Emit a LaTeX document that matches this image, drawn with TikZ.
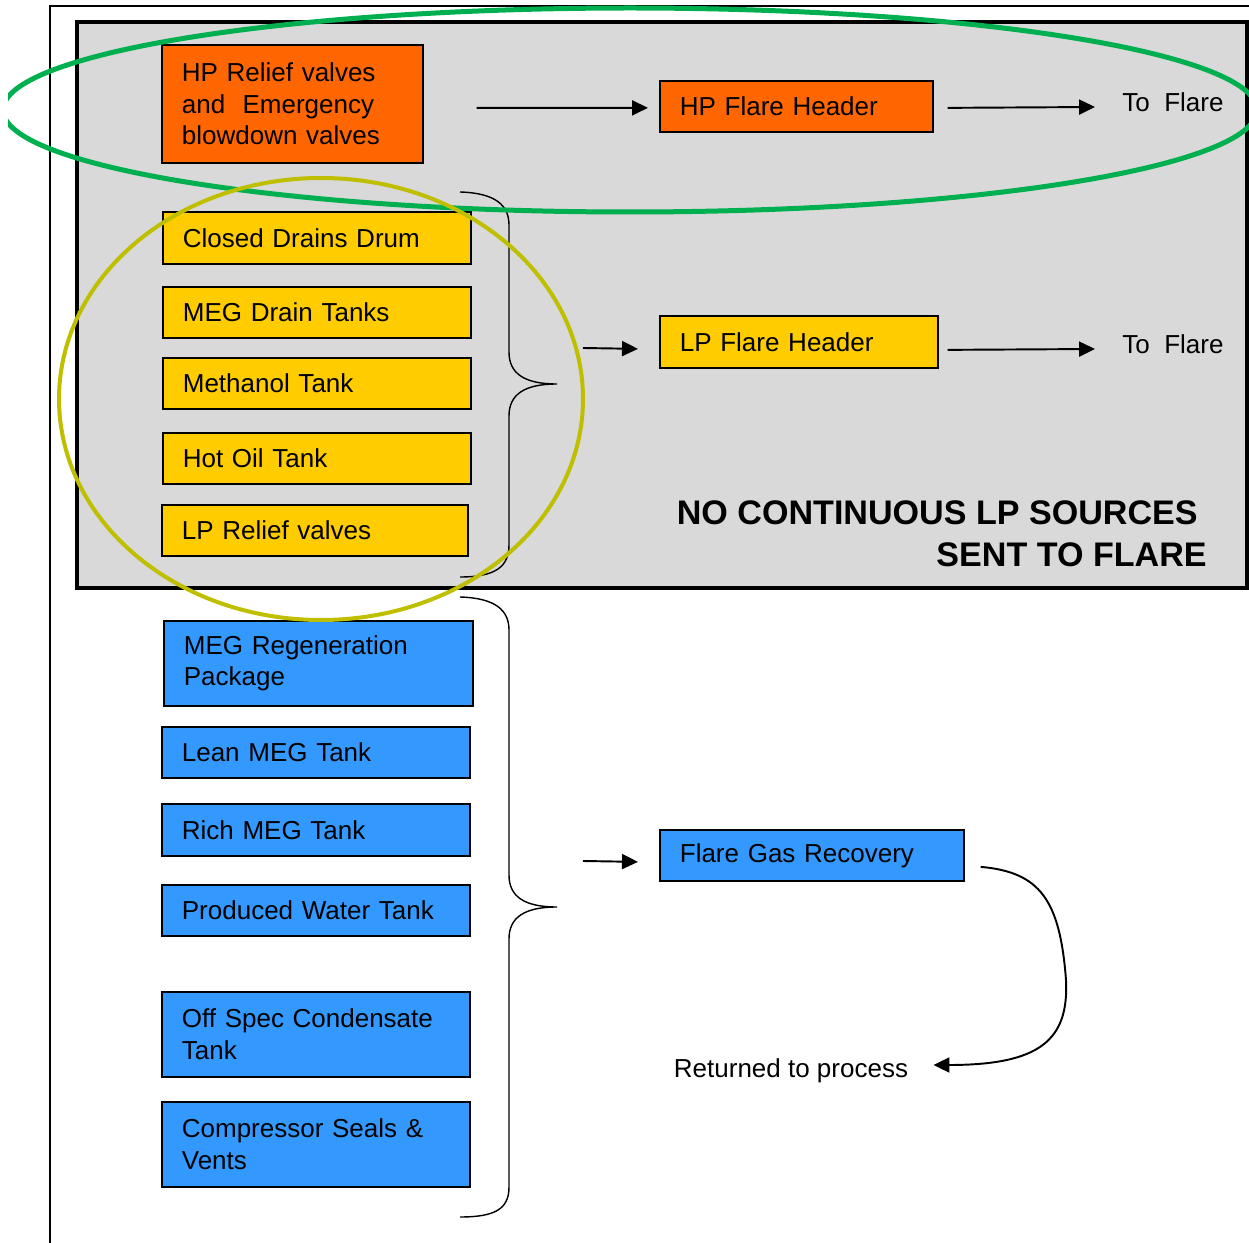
\documentclass[tikz,border=0pt]{standalone}
\usepackage{fontspec}
\setmainfont{Liberation Sans}
\usetikzlibrary{arrows.meta}

\definecolor{hpred}{HTML}{FF6600}
\definecolor{lpyellow}{HTML}{FFCC00}
\definecolor{recblue}{HTML}{3399FF}
\definecolor{zonegray}{HTML}{D9D9D9}
\definecolor{hpring}{HTML}{00B050}
\definecolor{lpring}{HTML}{BFBF00}

\tikzset{
  unit/.style={draw, line width=1pt, anchor=north west, inner xsep=0.4cm, inner ysep=0pt, align=left, font=\fontsize{14.8}{18.1}\selectfont},
  hpunit/.style={unit, fill=hpred},
  lpunit/.style={unit, fill=lpyellow},
  recunit/.style={unit, fill=recblue},
  txt/.style={inner sep=0pt, font=\fontsize{14.8}{18.1}\selectfont},
  flow/.style={line width=1.1pt, -{Triangle[length=0.32cm,width=0.3cm]}},
  curly/.style={line width=0.8pt},
}

\begin{document}
\begin{tikzpicture}[x=0.02cm, y=-0.02cm]
      \useasboundingbox (0,0) rectangle (1249,1243);
      % page frame and flare zone
      \draw[line width=0.8pt] (1249,6) -- (50,6) -- (50,1243);
      \draw[line width=0.08cm, fill=zonegray] (77,22) rectangle (1247,588);

      % HP sources
      \node[hpunit, text width=4.42cm, minimum height=2.36cm] (hprelief) at (161,44) {HP Relief valves\\and\ \ Emergency\\blowdown valves};
      \node[hpunit, text width=4.66cm, minimum height=1.02cm] (hpheader) at (659,80) {HP Flare Header};
      \node[txt] (tohp) at (1173,102) {To\ \ Flare};

      % LP sources
      \node[lpunit, text width=5.36cm, minimum height=1.04cm] (drains) at (162,211) {Closed Drains Drum};
      \node[lpunit, text width=5.36cm, minimum height=1.02cm] (megdrain) at (162,286) {MEG Drain Tanks};
      \node[lpunit, text width=5.36cm, minimum height=1.02cm] (methanol) at (162,357) {Methanol Tank};
      \node[lpunit, text width=5.36cm, minimum height=1.02cm] (hotoil) at (162,432) {Hot Oil Tank};
      \node[lpunit, text width=5.32cm, minimum height=1.02cm] (lprelief) at (161,504) {LP Relief valves};
      \node[lpunit, text width=4.76cm, minimum height=1.04cm] (lpheader) at (659,315) {LP Flare Header};
      \node[txt] (tolp) at (1173,344) {To\ \ Flare};
      \node[anchor=east, inner sep=0pt, align=right, font=\fontsize{19.4}{23.8}\selectfont\bfseries] (nolp) at (1207,534) {NO CONTINUOUS LP SOURCES\hspace*{0.18cm}\\SENT TO FLARE};

      % recovered sources
      \node[recunit, text width=5.38cm, minimum height=1.7cm] (megregen) at (163,620) {MEG Regeneration\\Package};
      \node[recunit, text width=5.36cm, minimum height=1.02cm] (leanmeg) at (161,726) {Lean MEG Tank};
      \node[recunit, text width=5.36cm, minimum height=1.04cm] (richmeg) at (161,803) {Rich MEG Tank};
      \node[recunit, text width=5.36cm, minimum height=1.02cm] (prodwater) at (161,884) {Produced Water Tank};
      \node[recunit, text width=5.36cm, minimum height=1.7cm] (offspec) at (161,991) {Off Spec Condensate\\Tank};
      \node[recunit, text width=5.36cm, minimum height=1.7cm] (seals) at (161,1101) {Compressor Seals \&\\Vents};
      \node[recunit, text width=5.28cm, minimum height=1.02cm] (fgr) at (659,829) {Flare Gas Recovery};
      \node[txt] (ret) at (791,1071) {Returned to process};

      \coordinate (lpfrom) at (583,348);
      \coordinate (recfrom) at (583,861);

      % flows
      \draw[flow] ([shift={(53,4)}]hprelief.east) -- ([shift={(-11,1.5)}]hpheader.west);
      \draw[flow] ([shift={(14,1.5)}]hpheader.east) -- ([shift={(-27,5)}]tohp.west);
      \draw[flow] (lpfrom) -- ([shift={(-21,7)}]lpheader.west);
      \draw[flow] ([shift={(9,8)}]lpheader.east) -- ([shift={(-27,5)}]tolp.west);
      \draw[flow] (recfrom) -- ([shift={(-21,6.5)}]fgr.west);
      \draw[flow] ([shift={(16,11.5)}]fgr.east) .. controls (1040,872) and (1060,900) .. (1066,980)
            .. controls (1069,1040) and (1040,1065) .. ([shift={(25,-6)}]ret.east);

      % braces
      \draw[curly] (460,192) .. controls (495,193) and (509,205) .. (509,225) -- (509,352)
            .. controls (509,374) and (525,384) .. (557,384) .. controls (525,384) and (509,394) .. (509,416)
            -- (509,545) .. controls (509,567) and (495,577) .. (460,577);
      \draw[curly] (460,597) .. controls (495,598) and (509,610) .. (509,630) -- (509,875)
            .. controls (509,897) and (525,907) .. (557,907) .. controls (525,907) and (509,917) .. (509,939)
            -- (509,1187) .. controls (509,1209) and (495,1217) .. (460,1217);

      % rings
      \begin{scope}
        \clip (8,0) rectangle (1249,1243);
        \draw[hpring, line width=0.1cm] (630,110) ellipse [x radius=627, y radius=102];
      \end{scope}
      \draw[lpring, line width=0.08cm] (321,399) ellipse [x radius=262, y radius=221];
    \end{tikzpicture}
\end{document}
